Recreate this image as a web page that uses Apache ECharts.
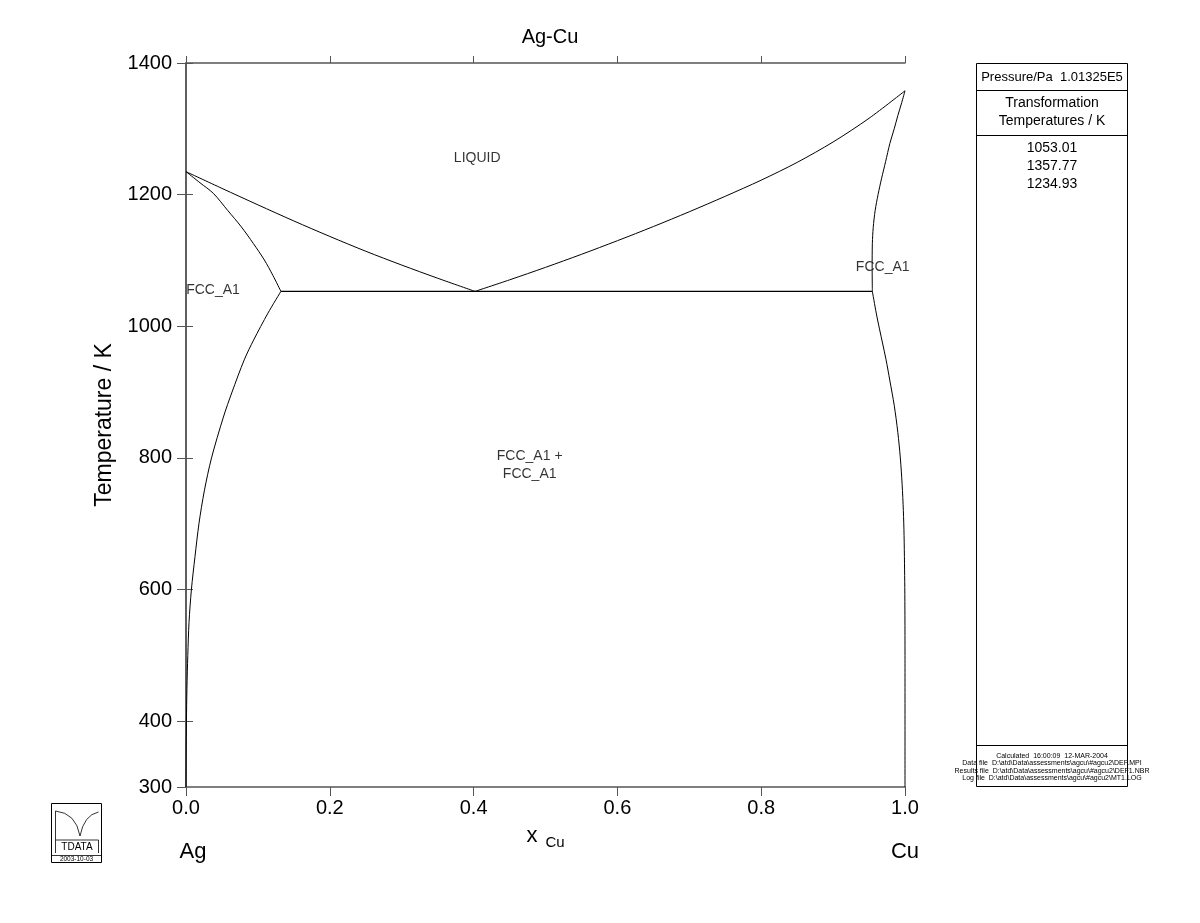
<!DOCTYPE html>
<html>
<head>
<meta charset="utf-8">
<script src="https://cdn.jsdelivr.net/npm/echarts@6/dist/echarts.min.js"></script>
<style>html,body{margin:0;padding:0;background:#fff;}#c{width:1200px;height:923px;}</style>
</head>
<body>
<div id="c"></div>
<script>
// ---- data (x_Cu, T/K) ----
const liquidusAg = [[0,1234.93],[0.05,1209.5],[0.1,1184.5],[0.15,1160],[0.2,1136.5],[0.25,1114],[0.3,1093],[0.35,1073],[0.402,1053.01]];
const liquidusCu = [[0.402,1053.01],[0.45,1070.5],[0.5,1089.5],[0.55,1109.3],[0.6,1130],[0.65,1151.5],[0.7,1174],[0.75,1197.5],[0.8,1222],[0.85,1249],[0.9,1280],[0.95,1316],[1,1357.77]];
const solidusAg = [[0,1234.93],[0.0195,1218],[0.038,1202],[0.058,1176],[0.077,1151],[0.0935,1126],[0.109,1100.7],[0.121,1077],[0.132,1053.01]];
const solvusAg = [[0.132,1053.01],[0.114,1020],[0.094,979],[0.081,949],[0.064,900],[0.052,862],[0.0355,800],[0.0255,750],[0.018,700],[0.0125,650],[0.0075,600],[0.0042,550],[0.0025,500],[0.0013,450],[0.0006,400],[0.0002,350],[0,300]];
const solidusCu = [[0.9546,1053.01],[0.9543,1090],[0.9546,1126],[0.9558,1150],[0.9585,1176],[0.9625,1200],[0.9675,1225],[0.973,1250],[0.979,1278],[0.985,1300],[0.990,1320],[0.9955,1340],[1,1357.77]];
const solvusCu = [[0.9546,1053.01],[0.960,1020],[0.9645,996],[0.9735,950],[0.979,917],[0.985,880],[0.990,839],[0.9935,800],[0.996,760],[0.9977,720],[0.9987,682],[0.9993,640],[0.9997,603],[0.9999,560],[1,500],[1,300]];
const eutectic = [[0.132,1053.01],[0.9546,1053.01]];
const phaseLabels = [
  {name:'LIQUID', value:[0.405,1255.7]},
  {name:'FCC_A1', value:[0.0376,1055]},
  {name:'FCC_A1', value:[0.969,1090]},
  {name:'FCC_A1 +\nFCC_A1', value:[0.478,789]}
];
const yLabelValues = [300,400,600,800,1000,1200,1400];
const yTickValues = [300,400,600,800,1000,1200,1400];
const xTicks = {min:0, max:1, interval:0.2};
const transformationTemps = ['1053.01','1357.77','1234.93'];

const FONT = 'Liberation Sans';
const axisColor = '#555';

const chart = echarts.init(document.getElementById('c'), null, {renderer:'canvas'});

function lineSeries(name, data, w) {
  return {name, type:'line', data, xAxisIndex:0, yAxisIndex:0, showSymbol:false, symbol:'none',
    smooth:0.3, lineStyle:{color:'#000', width:w||1}, silent:true, animation:false, z:3};
}
function txt(x, y, text, size, extra) {
  return {type:'text', x, y, style:Object.assign({text, font:size+'px "Liberation Sans"', fill:'#000', align:'center', verticalAlign:'middle'}, extra||{})};
}
function ln(x1, y1, x2, y2, w) {
  return {type:'line', shape:{x1, y1, x2, y2}, style:{stroke:'#000', lineWidth:w||1}};
}

const commonX = {type:'value', min:xTicks.min, max:xTicks.max, interval:xTicks.interval, splitLine:{show:false},
  axisLine:{show:true, lineStyle:{color:axisColor, width:1.5}}};
const commonY = {type:'value', min:300, max:1400, splitLine:{show:false},
  axisLine:{show:true, lineStyle:{color:axisColor, width:1.5}}};

const option = {
  backgroundColor:'#fff',
  animation:false,
  title:{text:'Ag-Cu', left:545, top:22, textAlign:'center',
    textStyle:{fontFamily:FONT, fontSize:20, fontWeight:'normal', color:'#000'}},
  grid:{left:186, right:295, top:63, bottom:136, containLabel:false},
  xAxis:[
    Object.assign({}, commonX, {position:'bottom',
      axisTick:{show:true, inside:false, length:9, lineStyle:{color:axisColor, width:1}},
      axisLabel:{show:true, margin:11, fontFamily:FONT, fontSize:20, color:'#000', formatter:v=>v.toFixed(1)}}),
    Object.assign({}, commonX, {position:'top',
      axisTick:{show:true, inside:false, length:7, lineStyle:{color:axisColor, width:1}},
      axisLabel:{show:false}})
  ],
  yAxis:[
    Object.assign({}, commonY, {position:'left',
      name:'Temperature / K', nameLocation:'middle', nameGap:67, nameRotate:90,
      nameTextStyle:{fontFamily:FONT, fontSize:23, color:'#000'},
      axisTick:{show:true, inside:false, length:9, customValues:yTickValues, lineStyle:{color:axisColor, width:1}},
      axisLabel:{show:true, margin:14, fontFamily:FONT, fontSize:20, color:'#000', customValues:yLabelValues, formatter:v=>String(v)}}),
    Object.assign({}, commonY, {position:'right',
      axisTick:{show:true, inside:false, length:7, customValues:yTickValues.slice(1), lineStyle:{color:axisColor, width:1}},
      axisLabel:{show:false}})
  ],
  series:[
    lineSeries('liquidusAg', liquidusAg),
    lineSeries('liquidusCu', liquidusCu),
    lineSeries('solidusAg', solidusAg),
    lineSeries('solvusAg', solvusAg),
    lineSeries('solidusCu', solidusCu),
    lineSeries('solvusCu', solvusCu),
    Object.assign(lineSeries('eutectic', eutectic, 1.4), {smooth:false}),
    {type:'scatter', data:phaseLabels, symbolSize:1, itemStyle:{color:'rgba(0,0,0,0)'}, silent:true, z:5,
      label:{show:true, position:'inside', formatter:p=>p.name, fontFamily:FONT, fontSize:14, color:'#000', lineHeight:18, align:'center'}}
  ],
  graphic:[
    // axis end labels
    txt(193, 852, 'Ag', 22),
    txt(905, 852, 'Cu', 22),
    txt(532, 836, 'x', 22),
    txt(555, 843, 'Cu', 15),
    // info box
    {type:'rect', shape:{x:976.5, y:63.5, width:151, height:723}, style:{fill:'none', stroke:'#000', lineWidth:1}},
    ln(976.5, 90.5, 1127.5, 90.5),
    ln(976.5, 135.5, 1127.5, 135.5),
    ln(976.5, 745.5, 1127.5, 745.5),
    txt(1052, 77, 'Pressure/Pa  1.01325E5', 13),
    txt(1052, 103, 'Transformation', 14),
    txt(1052, 121, 'Temperatures / K', 14),
    txt(1052, 148, transformationTemps[0], 14),
    txt(1052, 166, transformationTemps[1], 14),
    txt(1052, 184, transformationTemps[2], 14),
    txt(1052, 756, 'Calculated  16:00:09  12-MAR-2004', 7),
    txt(1052, 763.5, 'Data file  D:\\atd\\Data\\assessments\\agcu\\#agcu2\\DEF.MPI', 7),
    txt(1052, 771, 'Results file  D:\\atd\\Data\\assessments\\agcu\\#agcu2\\DEF1.NBR', 7),
    txt(1052, 778.5, 'Log file  D:\\atd\\Data\\assessments\\agcu\\#agcu2\\MT1.LOG', 7),
    // logo
    {type:'rect', shape:{x:51.5, y:803.5, width:50, height:59}, style:{fill:'none', stroke:'#000', lineWidth:1}},
    ln(55.5, 811, 55.5, 853, 0.8),
    {type:'bezierCurve', shape:{x1:55.5, y1:811, x2:80, y2:836, cpx1:76, cpy1:813}, style:{fill:'none', stroke:'#000', lineWidth:0.8}},
    {type:'bezierCurve', shape:{x1:80, y1:836, x2:98.5, y2:812, cpx1:84, cpy1:815}, style:{fill:'none', stroke:'#000', lineWidth:0.8}},
    ln(55.5, 840, 98.5, 840, 0.8),
    ln(98.5, 840, 98.5, 853, 0.8),
    txt(77, 847, 'TDATA', 10),
    ln(51.5, 855.5, 101.5, 855.5, 0.8),
    txt(76.5, 859.5, '2003-10-03', 6.5)
  ]
};
chart.setOption(option);
</script>
</body>
</html>
